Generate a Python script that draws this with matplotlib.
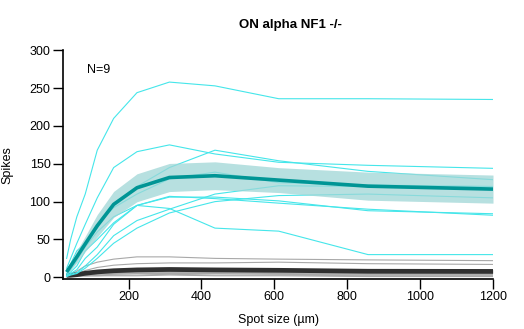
import numpy as np
import matplotlib
matplotlib.use("Agg")
import matplotlib.pyplot as plt

plt.rcParams['font.family'] = ['Liberation Sans', 'DejaVu Sans']

title = "ON alpha NF1 -/-"
n_label = "N=9"
x_label = "Spot size (\u00b5m)"
y_label = "Spikes"

spot_sizes = [30, 41, 58, 81, 114, 159, 223, 312, 437, 612, 857, 1200]

on_cells = [
    [25, 50, 80, 110, 168, 210, 244, 258, 253, 236, 236, 235],
    [12, 25, 45, 70, 105, 145, 166, 175, 163, 152, 148, 144],
    [5, 12, 25, 45, 65, 98, 120, 145, 168, 154, 140, 129],
    [8, 18, 35, 45, 70, 92, 110, 130, 139, 125, 122, 120],
    [5, 10, 22, 40, 60, 80, 95, 106, 106, 101, 88, 84],
    [3, 7, 15, 35, 50, 72, 95, 107, 104, 98, 90, 82],
    [2, 5, 10, 25, 40, 70, 95, 91, 65, 61, 30, 30],
    [2, 4, 6, 15, 30, 55, 75, 90, 110, 121, 120, 120],
    [1, 3, 5, 12, 25, 45, 65, 85, 100, 108, 110, 105],
]

ctrl_cells = [
    [3, 4, 8, 15, 20, 24, 27, 27, 25, 24, 23, 22],
    [3, 3, 5, 9, 13, 16, 18, 19, 19, 20, 18, 17],
    [3, 3, 4, 6, 8, 10, 11, 12, 11, 10, 9, 9],
    [3, 3, 3, 5, 7, 8, 9, 10, 10, 9, 7, 7],
    [3, 3, 3, 4, 5, 6, 7, 7, 7, 6, 5, 5],
    [2, 2, 2, 3, 4, 5, 6, 6, 6, 5, 4, 4],
    [2, 2, 2, 2, 3, 4, 5, 5, 5, 4, 3, 3],
    [2, 2, 2, 2, 2, 3, 3, 4, 3, 3, 2, 2],
    [2, 2, 2, 2, 2, 2, 2, 3, 2, 2, 1, 1],
]

W, H = 524, 329
fig = plt.figure(figsize=(W / 100, H / 100), dpi=100)
ax_l, ax_r, ax_t, ax_b = 63, 493, 50.3, 279
ax = fig.add_axes([ax_l / W, 1 - ax_b / H, (ax_r - ax_l) / W, (ax_b - ax_t) / H])

x = np.array(spot_sizes)
on = np.array(on_cells, dtype=float)
ctrl = np.array(ctrl_cells, dtype=float)

for row in ctrl:
    ax.plot(x, row, color='#a8a8a8', lw=0.8, zorder=2)
cm = ctrl.mean(axis=0)
cs = ctrl.std(axis=0, ddof=1) / np.sqrt(len(ctrl))
ax.fill_between(x, cm - cs, cm + cs, color='#b0b0b0', alpha=0.6, lw=0, zorder=2)
ax.plot(x, cm, color='#303030', lw=3.4, zorder=3, solid_capstyle='butt')

for row in on:
    ax.plot(x, row, color='#45e6ea', lw=0.8, zorder=4)
m = on.mean(axis=0)
s = on.std(axis=0, ddof=1) / np.sqrt(len(on))
ax.fill_between(x, m - s, m + s, color='#9fd6d6', alpha=0.75, lw=0, zorder=5)
ax.plot(x, m, color='#009595', lw=2.6, zorder=6, solid_capstyle='butt')

ax.set_xlim(20, 1200)
ax.set_ylim(-2.25, 300)
ax.set_xticks([200, 400, 600, 800, 1000, 1200])
ax.set_yticks([0, 50, 100, 150, 200, 250, 300])
ax.tick_params(direction='out', length=7, width=1, labelsize=9, colors='black', pad=2)
for sp in ['top', 'right']:
    ax.spines[sp].set_visible(False)
for sp in ['left', 'bottom']:
    ax.spines[sp].set_linewidth(1.2)

ax.set_ylabel(y_label, fontsize=9)
ax.yaxis.set_label_coords((13 - ax_l) / (ax_r - ax_l), 0.5)
ax.set_xlabel(x_label, fontsize=9)
ax.xaxis.set_label_coords(0.5, (ax_b - 314) / (ax_b - ax_t))

ax.text((87 - ax_l) / (ax_r - ax_l), (ax_b - 70) / (ax_b - ax_t), n_label,
        transform=ax.transAxes, fontsize=9, ha='left', va='center')
fig.text(290 / W, 1 - 25 / H, title, fontsize=9.5, fontweight='bold', ha='center', va='center')

fig.savefig("out.png", dpi=100)
